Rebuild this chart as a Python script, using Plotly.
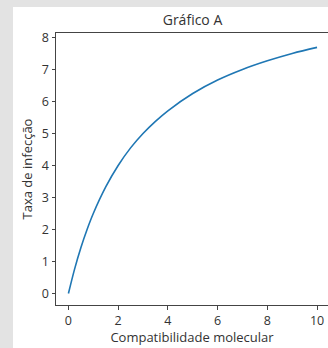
import plotly.graph_objects as go

# Data
compatibilidade = [0, 0.25, 0.5, 0.75, 1, 1.5, 2, 2.5, 3, 3.5, 4, 5, 6, 7, 8, 9, 10]
taxa_infeccao = [0, 0.77, 1.43, 2.0, 2.5, 3.33, 4.0, 4.55, 5.0, 5.38, 5.71, 6.25, 6.67, 7.0, 7.27, 7.5, 7.69]
x_ticks = [0, 2, 4, 6, 8, 10]
y_ticks = [0, 1, 2, 3, 4, 5, 6, 7, 8]

TEXT = "#333333"
AXIS = "#444444"
GRAY = "#e3e3e3"
FONT = "Open Sans"

fig = go.Figure()
fig.add_trace(go.Scatter(
    x=compatibilidade, y=taxa_infeccao, mode="lines",
    line=dict(color="#1f77b4", width=1.6), line_shape="spline",
    hoverinfo="skip", showlegend=False,
))

W, H = 328, 348
L, R, T, B = 56, 0, 33, 43
pw, ph = W - L - R, H - T - B

def px_x(p):
    return (p - L) / pw

def px_y(p):
    return (H - B - p) / ph

shapes = [
    dict(type="rect", xref="paper", yref="paper", x0=px_x(0), x1=px_x(13),
         y0=px_y(H), y1=px_y(0), fillcolor=GRAY, line=dict(width=0), layer="below"),
    dict(type="rect", xref="paper", yref="paper", x0=px_x(0), x1=px_x(W),
         y0=px_y(7), y1=px_y(0), fillcolor=GRAY, line=dict(width=0), layer="below"),
]

fig.update_layout(
    width=W, height=H,
    margin=dict(l=L, r=R, t=T, b=B, pad=0),
    paper_bgcolor="white", plot_bgcolor="white",
    font=dict(family=FONT, size=12, color=TEXT),
    shapes=shapes,
    title=dict(text="Gráfico A", x=px_x(192.5), xanchor="center", y=1 - 20.5 / H,
               yanchor="middle", xref="paper", font=dict(size=14, color=TEXT)),
    xaxis=dict(
        range=[-0.5, 10.44], tickvals=x_ticks, ticktext=[str(v) for v in x_ticks],
        showgrid=False, zeroline=False, showline=True, linecolor=AXIS, linewidth=1,
        mirror=True, ticks="outside", ticklen=3.5, tickcolor=AXIS, tickwidth=1,
        tickfont=dict(size=12.5, color=TEXT),
        title=dict(text="Compatibilidade molecular", font=dict(size=13, color=TEXT), standoff=2),
    ),
    yaxis=dict(
        range=[-0.36, 8.14], tickvals=y_ticks, ticktext=[str(v) for v in y_ticks],
        showgrid=False, zeroline=False, showline=True, linecolor=AXIS, linewidth=1,
        mirror=False, ticks="outside", ticklen=3.5, tickcolor=AXIS, tickwidth=1,
        tickfont=dict(size=12.5, color=TEXT),
        title=dict(text="Taxa de infecção", font=dict(size=13, color=TEXT), standoff=6),
    ),
)

fig.write_html(
    "out.html",
    config={"displayModeBar": False, "staticPlot": True},
    post_script="document.body.style.margin='0';document.body.style.overflow='hidden';",
)
